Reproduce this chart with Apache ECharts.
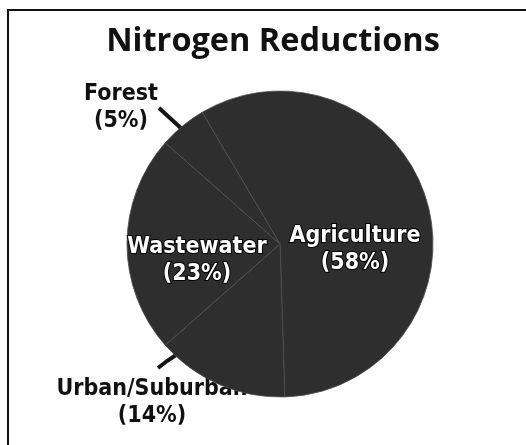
<!DOCTYPE html>
<html>
<head>
<meta charset="utf-8">
<script src="https://cdn.jsdelivr.net/npm/echarts@6/dist/echarts.min.js"></script>
<style>
html,body{margin:0;padding:0;background:#fff;}
#chart{width:526px;height:445px;}
</style>
</head>
<body>
<div id="chart"></div>
<script>
// Data
const titleText = 'Nitrogen Reductions';
const categories = ['Agriculture', 'Urban/Suburban', 'Wastewater', 'Forest'];
const values = [58, 14, 23, 5];
const insideLabel = [true, false, true, false];

const chart = echarts.init(document.getElementById('chart'), null, {renderer: 'canvas'});

// label anchor positions (layout only)
const labelPos = [[355, 250], [152, 403], [197, 261], [121, 108]];
const leaderPts = {
  1: [[176, 355], [167, 361], [158, 368]],
  3: [[183, 130], [171, 119], [159, 108]]
};

const font = "'DejaVu Sans Condensed', 'Liberation Sans Narrow', sans-serif";

function makeData(forLabels) {
  return categories.map((c, i) => {
    const isIn = insideLabel[i];
    const show = forLabels ? !isIn : isIn;
    return {
      name: c,
      value: values[i],
      label: {
        show: show,
        formatter: '{b}\n({c}%)',
        color: isIn ? '#ffffff' : '#111111',
        textBorderColor: isIn ? '#000000' : 'transparent',
        textBorderWidth: isIn ? 2 : 0
      },
      labelLine: {show: show && !isIn}
    };
  });
}

const common = {
  type: 'pie',
  center: [280, 244],
  radius: [0, 153],
  startAngle: 120.6,
  clockwise: true,
  avoidLabelOverlap: false,
  silent: true,
  animation: false,
  label: {
    fontFamily: font,
    fontWeight: 'bold',
    fontSize: 23,
    lineHeight: 27,
    align: 'center'
  },
  labelLine: {lineStyle: {color: '#151515', width: 4}},
  labelLayout: function (p) {
    const pos = labelPos[p.dataIndex];
    const r = {x: pos[0], y: pos[1], align: 'center', verticalAlign: 'middle'};
    if (leaderPts[p.dataIndex]) r.labelLinePoints = leaderPts[p.dataIndex];
    return r;
  }
};

chart.setOption({
  backgroundColor: '#ffffff',
  title: {
    text: titleText,
    left: 268,
    top: 20,
    textAlign: 'center',
    textStyle: {
      fontFamily: "'Open Sans', sans-serif",
      fontWeight: 'bold',
      fontSize: 32.5,
      color: '#111111'
    }
  },
  graphic: [
    {type: 'line', shape: {x1: 7, y1: 10, x2: 526, y2: 10}, style: {stroke: '#111', lineWidth: 2}},
    {type: 'line', shape: {x1: 8, y1: 10, x2: 8, y2: 445}, style: {stroke: '#111', lineWidth: 2}}
  ],
  series: [
    Object.assign({}, common, {
      z: 1,
      itemStyle: {color: 'transparent', borderWidth: 0},
      data: makeData(true)
    }),
    Object.assign({}, common, {
      z: 2,
      itemStyle: {color: '#2e2e2e', borderColor: '#4e4e4e', borderWidth: 0.8},
      data: makeData(false)
    })
  ]
});
</script>
</body>
</html>
